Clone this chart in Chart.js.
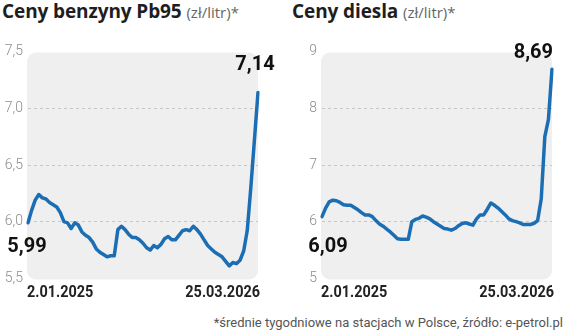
<!DOCTYPE html>
<html lang="pl">
<head>
<meta charset="utf-8">
<title>Ceny paliw</title>
<script src="https://cdn.jsdelivr.net/npm/chart.js@4.4.1/dist/chart.umd.min.js"></script>
<style>
    html, body { margin: 0; padding: 0; background: #fff; }
    body { width: 564px; height: 334px; position: relative; overflow: hidden; }
    .title {
        position: absolute;
        top: 2px;
        font: 700 19px/18px "Open Sans", sans-serif;
        color: #1e1e1e;
        white-space: nowrap;
        letter-spacing: -0.1px;
    }
    .title span { font-weight: 400; font-size: 15px; color: #666; letter-spacing: 0; }
    canvas { position: absolute; top: 30px; }
    #pb95Chart { left: 0; }
    #dieselChart { left: 290px; }
    .note {
        position: absolute;
        right: 1px;
        top: 316px;
        font: 400 13px/14px Roboto, sans-serif;
        color: #555;
        white-space: nowrap;
    }
</style>
</head>
<body>
<div class="title" style="left:2px">Ceny benzyny Pb95 <span>(zł/litr)*</span></div>
<div class="title" style="left:292px">Ceny diesla <span>(zł/litr)*</span></div>
<canvas id="pb95Chart" width="282" height="280"></canvas>
<canvas id="dieselChart" width="274" height="280"></canvas>
<div class="note">*średnie tygodniowe na stacjach w Polsce, źródło: e-petrol.pl</div>

<script>
// weekly averages, 2.01.2025 - 25.03.2026
const pb95 = [
    5.99, 6.10, 6.19, 6.24, 6.21, 6.20, 6.17, 6.15, 6.13, 6.08,
    6.00, 5.99, 5.94, 5.99, 5.97, 5.91, 5.88, 5.86, 5.82, 5.76,
    5.73, 5.71, 5.69, 5.70, 5.70, 5.93, 5.96, 5.93, 5.89, 5.86,
    5.86, 5.84, 5.81, 5.77, 5.75, 5.79, 5.77, 5.80, 5.85, 5.87,
    5.84, 5.84, 5.88, 5.92, 5.93, 5.92, 5.96, 5.93, 5.89, 5.84,
    5.79, 5.76, 5.73, 5.71, 5.69, 5.65, 5.61, 5.64, 5.63, 5.66,
    5.74, 5.92, 6.30, 6.72, 7.14
];
const diesel = [
    6.09, 6.24, 6.35, 6.38, 6.37, 6.34, 6.30, 6.29, 6.29, 6.25,
    6.21, 6.16, 6.12, 6.12, 6.09, 6.02, 5.96, 5.92, 5.87, 5.82,
    5.76, 5.70, 5.69, 5.69, 5.69, 6.00, 6.04, 6.06, 6.10, 6.08,
    6.05, 6.00, 5.96, 5.92, 5.88, 5.87, 5.85, 5.88, 5.93, 5.97,
    5.98, 5.96, 5.94, 6.05, 6.12, 6.12, 6.22, 6.33, 6.29, 6.24,
    6.18, 6.12, 6.05, 6.02, 6.00, 5.98, 5.95, 5.95, 5.95, 5.97,
    6.02, 6.40, 7.50, 7.80, 8.69
];
const weeks = pb95.map((_, i) => i);
const dateTicks = ['2.01.2025', '25.03.2026'];
const pb95Ticks = [5.5, 6.0, 6.5, 7.0, 7.5];
const dieselTicks = [5, 6, 7, 8, 9];

function plNumber(v, digits) {
    return v.toFixed(digits).replace('.', ',');
}

// narrow bold text: no condensed face installed, so squeeze it horizontally
function narrowText(ctx, text, x, y, align) {
    ctx.save();
    ctx.translate(x, y);
    ctx.scale(0.85, 1);
    ctx.textAlign = align;
    ctx.fillText(text, 0, 0);
    ctx.restore();
}

// grey rounded panel behind the plot + first/last value and date labels
const panelPlugin = {
    id: 'panel',
    beforeDraw(chart) {
        const { ctx, chartArea: a } = chart;
        ctx.save();
        ctx.fillStyle = '#efefef';
        ctx.beginPath();
        ctx.roundRect(a.left - 1, a.top + 1, a.right - a.left + 1, a.bottom - a.top, 9);
        ctx.fill();
        ctx.restore();
    },
    afterDraw(chart, args, opts) {
        const { ctx, chartArea: a } = chart;
        const pts = chart.getDatasetMeta(0).data;
        const values = chart.data.datasets[0].data;
        const first = pts[0];
        const last = pts[pts.length - 1];

        ctx.save();
        ctx.fillStyle = '#111';
        ctx.font = '700 20px Roboto';
        ctx.textBaseline = 'alphabetic';
        ctx.textAlign = opts.startAlign;
        ctx.fillText(plNumber(values[0], 2), first.x + opts.startDx, first.y + opts.startDy);
        ctx.textAlign = opts.endAlign;
        ctx.fillText(plNumber(values[values.length - 1], 2), last.x + opts.endDx, last.y + opts.endDy);

        ctx.fillStyle = '#222';
        ctx.font = '700 17px Roboto';
        narrowText(ctx, dateTicks[0], first.x - 1, a.bottom + 18.6, 'left');
        narrowText(ctx, dateTicks[1], last.x + 2, a.bottom + 18.6, 'right');
        ctx.restore();
    }
};

function makeChart(id, values, ticks, axisWidth, padRight, labelOpts) {
    const step = ticks[1] - ticks[0];
    const digits = step < 1 ? 1 : 0;
    return new Chart(document.getElementById(id), {
        type: 'line',
        data: {
            labels: weeks,
            datasets: [{
                data: values,
                borderColor: '#1c6eb4',
                borderWidth: 3.5,
                borderJoinStyle: 'round',
                borderCapStyle: 'round',
                pointRadius: 0,
                tension: 0,
                fill: false
            }]
        },
        options: {
            responsive: false,
            animation: false,
            layout: { padding: { top: 21.6, bottom: 31.6, left: 0, right: padRight } },
            plugins: {
                legend: { display: false },
                tooltip: { enabled: false },
                panel: labelOpts
            },
            scales: {
                x: { display: false },
                y: {
                    min: ticks[0],
                    max: ticks[ticks.length - 1],
                    afterFit(scale) { scale.width = axisWidth; },
                    afterBuildTicks(scale) { scale.ticks = ticks.map(v => ({ value: v })); },
                    border: { display: false, dash: [3, 3] },
                    grid: {
                        drawTicks: false,
                        lineWidth: 1,
                        color: c => (c.index === 0 || c.index === ticks.length - 1) ? 'rgba(0,0,0,0)' : '#c6c6c6'
                    },
                    ticks: {
                        padding: 5,
                        color: '#8c8c8c',
                        font: { family: 'Roboto', size: 14, weight: 300 },
                        callback: v => plNumber(v, digits)
                    }
                }
            }
        },
        plugins: [panelPlugin]
    });
}

makeChart('pb95Chart', pb95, pb95Ticks, 28, 24, {
    startAlign: 'center', startDx: -1, startDy: 29,
    endAlign: 'center', endDx: -3, endDy: -22
});
makeChart('dieselChart', diesel, dieselTicks, 32, 12, {
    startAlign: 'center', startDx: 6, startDy: 35,
    endAlign: 'right', endDx: 1, endDy: -11.5
});
</script>
</body>
</html>
